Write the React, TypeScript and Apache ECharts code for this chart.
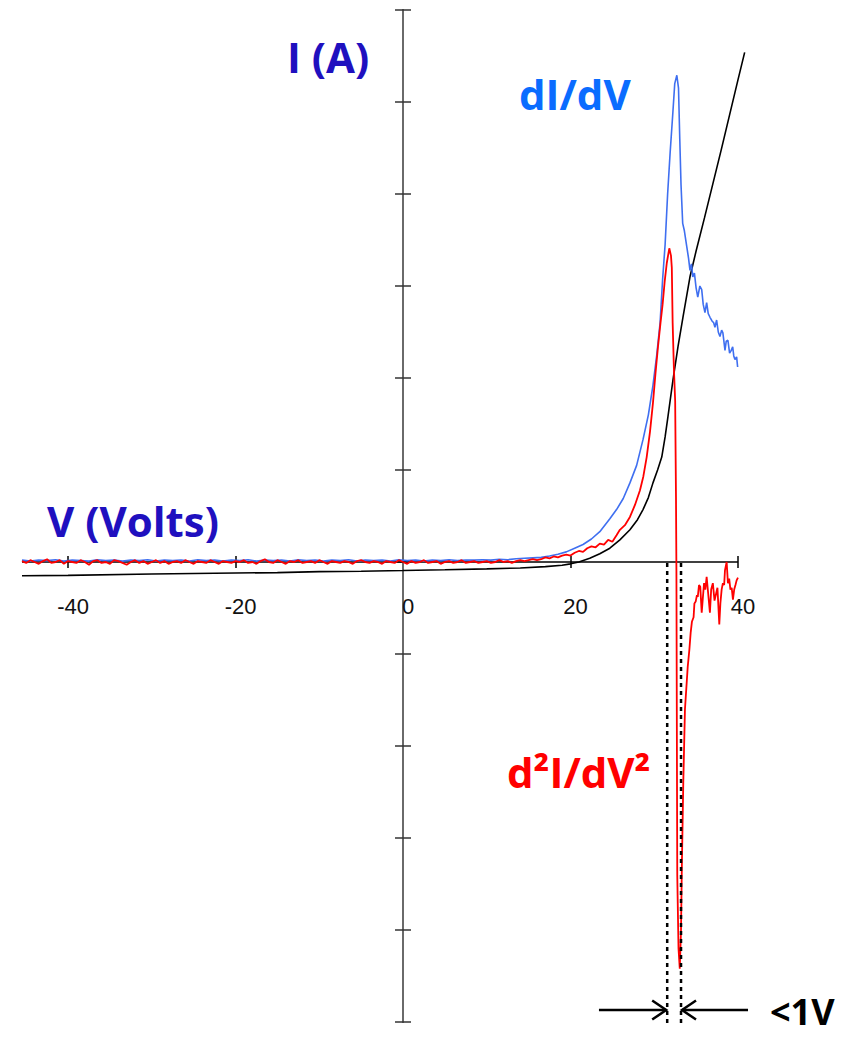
import React, { useEffect, useRef } from "react";
import * as echarts from "echarts";

// ---- data (V in volts, values in axis units) ----
const currentIV: number[][] = [
  [-45.5, -0.15], [-40, -0.145], [-30, -0.13], [-20, -0.12], [-15, -0.115], [-10, -0.105],
  [-5, -0.1], [0, -0.093], [5, -0.085], [10, -0.075], [14, -0.065], [17, -0.05], [19, -0.035],
  [20, -0.02], [21, 0.0], [22.3, 0.04], [23.5, 0.09], [24.7, 0.15], [25.9, 0.24], [27.1, 0.35],
  [28.0, 0.46], [28.66, 0.57], [29.3, 0.7], [29.85, 0.86], [30.4, 1.0], [30.9, 1.14],
  [31.3, 1.36], [31.64, 1.58], [32.24, 1.98], [32.84, 2.34], [33.43, 2.66], [34.27, 3.1],
  [35, 3.38], [36, 3.74], [37, 4.11], [38, 4.48], [39, 4.86], [40, 5.24], [40.8, 5.54],
];

const dIdV: number[][] = [
  [-45.5, 0.02], [-44.5, 0.01], [-43.5, 0.02], [-42.5, 0.015], [-41.5, 0.025], [-40.5, 0.01],
  [-39.5, 0.02], [-38.5, 0.015], [-37.5, 0.01], [-36.5, 0.025], [-35.5, 0.015], [-34.5, 0.02],
  [-33.5, 0.01], [-32.5, 0.02], [-31.5, 0.015], [-30.5, 0.025], [-29.5, 0.01], [-28.5, 0.02],
  [-27.5, 0.015], [-26.5, 0.02], [-25.5, 0.01], [-24.5, 0.025], [-23.5, 0.015], [-22.5, 0.02],
  [-21.5, 0.01], [-20.5, 0.02], [-19.5, 0.015], [-18.5, 0.025], [-17.5, 0.01], [-16.5, 0.02],
  [-15.5, 0.015], [-14.5, 0.02], [-13.5, 0.01], [-12.5, 0.025], [-11.5, 0.015], [-10.5, 0.02],
  [-9.5, 0.01], [-8.5, 0.02], [-7.5, 0.015], [-6.5, 0.025], [-5.5, 0.01], [-4.5, 0.02],
  [-3.5, 0.015], [-2.5, 0.02], [-1.5, 0.01], [-0.5, 0.025], [0.5, 0.015], [1.5, 0.02],
  [2.5, 0.01], [3.5, 0.02], [4.5, 0.015], [5.5, 0.025], [6.5, 0.015], [7.5, 0.02], [8.5, 0.02],
  [9.5, 0.025], [10.5, 0.02], [11.5, 0.03], [12.5, 0.025], [13.5, 0.035], [14.5, 0.04],
  [15.5, 0.045], [16.5, 0.05], [17.5, 0.065], [18.5, 0.085], [19.5, 0.11], [20.5, 0.15],
  [21.5, 0.19], [22.5, 0.25], [23.5, 0.33], [24.7, 0.47], [25.5, 0.57], [26.3, 0.69],
  [27.1, 0.86], [27.9, 1.05], [28.66, 1.33], [29.3, 1.6], [29.85, 1.92], [30.3, 2.25],
  [30.7, 2.6], [31.0, 3.07], [31.3, 3.45], [31.6, 4.0], [31.9, 4.45], [32.2, 4.85],
  [32.45, 5.2], [32.7, 5.29], [32.9, 5.15], [33.05, 4.6], [33.2, 4.1], [33.4, 3.68],
  [33.6, 3.6], [33.9, 3.42], [34.1, 3.3], [34.27, 3.17], [34.45, 3.24], [34.6, 3.1],
  [34.8, 3.14], [35.0, 2.98], [35.2, 2.88], [35.45, 3.0], [35.67, 2.96], [35.85, 2.8],
  [36.06, 2.71], [36.26, 2.82], [36.45, 2.7], [36.66, 2.66], [36.9, 2.62], [37.1, 2.6],
  [37.25, 2.55], [37.45, 2.63], [37.65, 2.5], [37.85, 2.45], [38.05, 2.52], [38.2, 2.49],
  [38.45, 2.3], [38.6, 2.4], [38.8, 2.41], [39.0, 2.27], [39.2, 2.3], [39.37, 2.34],
  [39.5, 2.24], [39.64, 2.2], [39.84, 2.23], [39.96, 2.12],
];

const d2IdV2: number[][] = [
  [-45.5, 0.01], [-45, -0.01], [-44.5, 0.02], [-44, 0.0], [-43.5, -0.02], [-43, 0.01],
  [-42.5, 0.03], [-42, -0.01], [-41.5, 0.0], [-41, 0.02], [-40.5, -0.02], [-40, 0.01],
  [-39.5, 0.0], [-39, -0.01], [-38.5, 0.02], [-38, 0.0], [-37.5, -0.03], [-37, 0.01],
  [-36.5, 0.02], [-36, -0.01], [-35.5, 0.0], [-35, -0.02], [-34.5, 0.02], [-34, 0.01],
  [-33.5, -0.01], [-33, -0.03], [-32.5, 0.0], [-32, 0.02], [-31.5, -0.01], [-31, 0.01],
  [-30.5, -0.02], [-30, 0.0], [-29.5, 0.02], [-29, -0.01], [-28.5, 0.01], [-28, -0.02],
  [-27.5, 0.0], [-27, 0.01], [-26.5, -0.01], [-26, 0.02], [-25.5, 0.0], [-25, -0.02],
  [-24.5, 0.01], [-24, 0.0], [-23.5, -0.01], [-23, 0.02], [-22.5, 0.0], [-22, -0.02],
  [-21.5, 0.01], [-21, 0.0], [-20.5, -0.01], [-20, 0.01], [-19.5, 0.0], [-19, 0.02],
  [-18.5, -0.01], [-18, 0.0], [-17.5, -0.02], [-17, 0.01], [-16.5, 0.03], [-16, 0.0],
  [-15.5, -0.01], [-15, 0.02], [-14.5, 0.0], [-14, -0.02], [-13.5, 0.01], [-13, 0.0],
  [-12.5, 0.02], [-12, -0.01], [-11.5, 0.0], [-11, 0.01], [-10.5, -0.01], [-10, 0.02],
  [-9.5, 0.0], [-9, -0.02], [-8.5, 0.01], [-8, 0.0], [-7.5, -0.01], [-7, 0.01],
  [-6.5, 0.0], [-6, -0.02], [-5.5, 0.01], [-5, 0.02], [-4.5, 0.0], [-4, -0.01],
  [-3.5, 0.01], [-3, 0.0], [-2.5, -0.02], [-2, 0.01], [-1.5, 0.0], [-1, -0.01],
  [-0.5, 0.02], [0, 0.0], [0.5, -0.02], [1, 0.01], [1.5, -0.01], [2, 0.0], [2.5, 0.02],
  [3, -0.01], [3.5, 0.0], [4, 0.01], [4.5, -0.02], [5, 0.0], [5.5, 0.01], [6, -0.01],
  [6.5, 0.0], [7, 0.02], [7.5, -0.01], [8, 0.0], [8.5, 0.01], [9, -0.01], [9.5, 0.0],
  [10, 0.01], [10.5, -0.01], [11, 0.0], [11.5, 0.02], [12, 0.0], [12.5, 0.01], [13, -0.01],
  [13.5, 0.01], [14, 0.02], [14.5, 0.01], [15, 0.02], [15.5, 0.03], [16, 0.02],
  [16.5, 0.03], [17, 0.05], [17.5, 0.04], [18, 0.06], [18.5, 0.05], [19, 0.07], [19.5, 0.08],
  [20, 0.07], [20.5, 0.1], [21, 0.12], [21.5, 0.11], [22, 0.15], [22.5, 0.17], [23, 0.16],
  [23.5, 0.2], [24, 0.19], [24.5, 0.24], [25, 0.22], [25.5, 0.29], [25.9, 0.35], [26.5, 0.4],
  [27.1, 0.49], [27.7, 0.62], [28.3, 0.78], [28.7, 0.93], [29.1, 1.14], [29.5, 1.42],
  [29.85, 1.73], [30.15, 2.05], [30.45, 2.34], [30.75, 2.6], [31.0, 2.8], [31.25, 3.05],
  [31.5, 3.25], [31.8, 3.41], [32.0, 3.33], [32.1, 3.2], [32.2, 2.6], [32.35, 2.1],
  [32.5, 1.75], [32.6, 0.7], [32.65, -0.1], [32.75, -3.4], [32.9, -4.2], [33.05, -4.42],
  [33.2, -4.0], [33.3, -3.3], [33.47, -2.4], [33.67, -1.6], [34.0, -1.14], [34.2, -0.95],
  [34.35, -0.77], [34.5, -0.65], [34.7, -0.6], [34.8, -0.45], [34.95, -0.43], [35.1, -0.36],
  [35.2, -0.38], [35.35, -0.25], [35.5, -0.27], [35.67, -0.55], [35.8, -0.4], [35.95, -0.23],
  [36.1, -0.3], [36.26, -0.16], [36.45, -0.35], [36.65, -0.55], [36.8, -0.3], [37.0, -0.23],
  [37.2, -0.42], [37.4, -0.34], [37.55, -0.28], [37.77, -0.68], [37.9, -0.45], [38.05, -0.3],
  [38.2, -0.23], [38.35, -0.25], [38.45, -0.09], [38.65, 0.0], [38.8, -0.23], [38.95, -0.18],
  [39.1, -0.3], [39.25, -0.28], [39.4, -0.41], [39.55, -0.3], [39.7, -0.25], [39.84, -0.2],
  [40.0, -0.17],
];

const X_MIN = -45.5;
const X_MAX = 40.9; // scale reaches a little past the last tick so the I-V line is not cut
const X_AXIS_END = 40; // the drawn axis line stops at the last tick
const xTickValues = [-40, -20, 20, 40];
const xLabelValues = [-40, -20, 0, 20, 40];
const markerVolts = [31.55, 33.2];
const markerBottom = -5.05;
const arrowLevel = -4.87;
const arrowOuterVolts = [23.4, 41.2];

const AXIS_FONT = '"Liberation Sans", Arial, sans-serif';
const LABEL_FONT = '"Open Sans", "Noto Sans", sans-serif';

export default function App() {
  const ref = useRef<HTMLDivElement>(null);

  useEffect(() => {
    const chart = echarts.init(ref.current!, null, { renderer: "svg" });
    const xCommon = {
      type: "value",
      min: X_MIN,
      max: X_MAX,
      splitLine: { show: false },
      axisLabel: { show: false },
    };
    const yCommon = {
      type: "value",
      min: -5,
      max: 6,
      interval: 1,
      splitLine: { show: false },
      axisLabel: { show: false },
    };
    chart.setOption({
      animation: false,
      backgroundColor: "#ffffff",
      grid: { left: 22, right: 105.5, top: 10, bottom: 15, containLabel: false, outerBoundsMode: "none" },
      xAxis: [
        {
          ...xCommon,
          position: "bottom",
          axisLine: { show: true, onZero: true, onZeroAxisIndex: 0, lineStyle: { color: "rgba(0,0,0,0)", width: 1 } },
          axisTick: { show: true, customValues: xTickValues, length: 6, lineStyle: { color: "#000", width: 1.5 } },
        },
        {
          ...xCommon,
          position: "top",
          axisLine: { show: true, onZero: true, onZeroAxisIndex: 0, lineStyle: { color: "rgba(0,0,0,0)", width: 1 } },
          axisTick: { show: true, customValues: xTickValues, length: 6, lineStyle: { color: "#000", width: 1.5 } },
        },
      ],
      yAxis: [
        {
          ...yCommon,
          position: "left",
          axisLine: { onZero: true, onZeroAxisIndex: 0, lineStyle: { color: "#6a6a6a", width: 2 } },
          axisTick: { show: true, length: 8, lineStyle: { color: "#333", width: 1.5 } },
        },
        {
          ...yCommon,
          position: "right",
          axisLine: { onZero: true, onZeroAxisIndex: 0, lineStyle: { color: "#6a6a6a", width: 2 } },
          axisTick: { show: true, length: 8, lineStyle: { color: "#333", width: 1.5 } },
        },
      ],
      series: [
        {
          name: "I",
          type: "line",
          xAxisIndex: 0,
          yAxisIndex: 0,
          data: currentIV,
          showSymbol: false,
          lineStyle: { color: "#000", width: 1.6 },
          z: 3,
        },
        {
          name: "dI/dV",
          type: "line",
          xAxisIndex: 0,
          yAxisIndex: 0,
          data: dIdV,
          showSymbol: false,
          lineStyle: { color: "#3f6ff0", width: 1.6 },
          z: 4,
        },
        {
          name: "d2I/dV2",
          type: "line",
          xAxisIndex: 0,
          yAxisIndex: 0,
          data: d2IdV2,
          showSymbol: false,
          lineStyle: { color: "#ff0000", width: 1.8 },
          z: 5,
        },
      ],
    });

    const px = (v: number, y: number) => chart.convertToPixel({ seriesIndex: 0 }, [v, y]) as number[];
    const annotations: any[] = [];

    // x axis line from the left edge to the last tick
    const axL = px(X_MIN, 0);
    const axR = px(X_AXIS_END, 0);
    annotations.push({
      type: "line",
      shape: { x1: axL[0], y1: axL[1], x2: axR[0], y2: axR[1] },
      style: { stroke: "#000", lineWidth: 1.5 },
      z: 2,
    });

    // x tick labels, placed from the axis scale
    xLabelValues.forEach((v) => {
      const p = px(v, 0);
      annotations.push({
        type: "text",
        x: p[0] + 5,
        y: p[1] + 44,
        z: 20,
        style: {
          text: String(v),
          fill: "#111",
          fontSize: 22,
          fontFamily: AXIS_FONT,
          align: "center",
          verticalAlign: "middle",
        },
      });
    });

    markerVolts.forEach((v) => {
      const a = px(v, 0);
      const b = px(v, markerBottom);
      annotations.push({
        type: "line",
        shape: { x1: a[0], y1: a[1] + 1, x2: b[0], y2: b[1] },
        style: { stroke: "#000", lineWidth: 2.5, lineDash: [4, 4] },
        z: 10,
      });
    });
    // arrows pointing inward at the two marker lines
    const tipL = px(markerVolts[0], arrowLevel);
    const tailL = px(arrowOuterVolts[0], arrowLevel);
    const tipR = px(markerVolts[1], arrowLevel);
    const tailR = px(arrowOuterVolts[1], arrowLevel);
    annotations.push(
      { type: "line", shape: { x1: tailL[0], y1: tailL[1], x2: tipL[0] - 1, y2: tipL[1] }, style: { stroke: "#000", lineWidth: 2.5 }, z: 10 },
      { type: "polyline", shape: { points: [[tipL[0] - 15, tipL[1] - 9.5], [tipL[0] - 1, tipL[1]], [tipL[0] - 15, tipL[1] + 9.5]] }, style: { stroke: "#000", lineWidth: 2.5, fill: null }, z: 10 },
      { type: "line", shape: { x1: tailR[0], y1: tailR[1], x2: tipR[0] + 1, y2: tipR[1] }, style: { stroke: "#000", lineWidth: 2.5 }, z: 10 },
      { type: "polyline", shape: { points: [[tipR[0] + 15, tipR[1] - 9.5], [tipR[0] + 1, tipR[1]], [tipR[0] + 15, tipR[1] + 9.5]] }, style: { stroke: "#000", lineWidth: 2.5, fill: null }, z: 10 },
    );

    const label = (text: string, x: number, y: number, fill: string, size = 42) => ({
      type: "text",
      x,
      y,
      z: 20,
      style: {
        text,
        fill,
        fontSize: size,
        lineHeight: size,
        fontWeight: "bold",
        fontFamily: LABEL_FONT,
        align: "left",
        verticalAlign: "middle",
      },
    });

    chart.setOption({
      graphic: [
        label("I (A)", 287, 56, "#1f10bf"),
        label("dI/dV", 519, 93, "#0a6cff"),
        label("V (Volts)", 47, 520, "#1f10bf"),
        label("d²I/dV²", 507, 771, "#ff0000"),
        label("<1V", 770, 1011, "#000000", 36),
        ...annotations,
      ],
    });

    return () => chart.dispose();
  }, []);

  return (
    <div
      ref={ref}
      style={{ position: "absolute", left: 0, top: 0, width: 851, height: 1037, background: "#fff" }}
    />
  );
}
